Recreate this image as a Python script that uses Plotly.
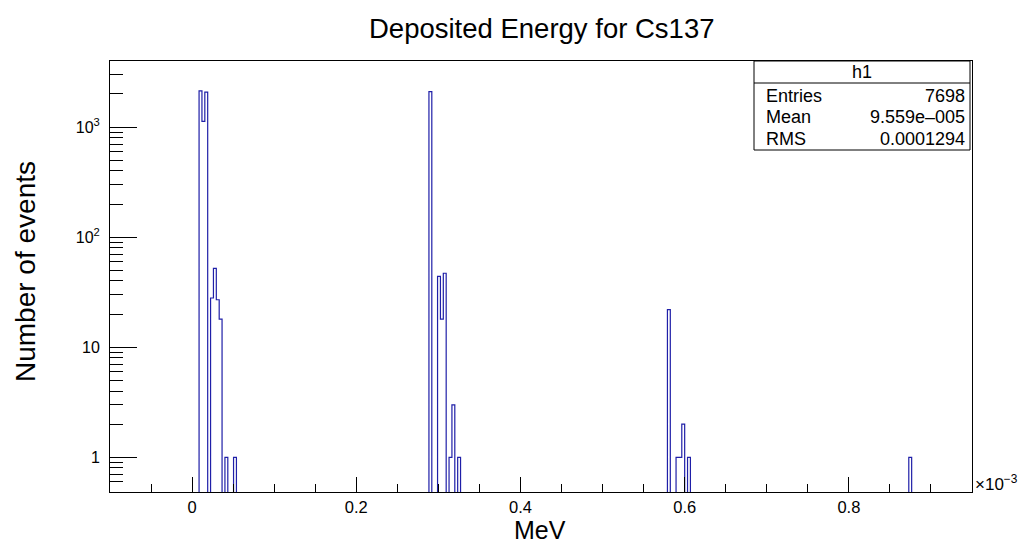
import numpy as np
import plotly.graph_objects as go

# Histogram binning (MeV): 300 bins from -0.1e-3 to 0.95e-3
X_LOW = -1.0e-4
BIN_WIDTH = 3.5e-6
N_BINS = 300

# Filled bins: bin index -> number of events
bin_index = [31, 32, 33, 35, 36, 37, 38, 40, 43,
             111, 114, 115, 116, 118, 119, 121,
             194, 197, 198, 199, 201,
             278]
counts = [2130, 1124, 2075, 28, 52, 27, 18, 1, 1,
          2100, 44, 18, 47, 1, 3, 1,
          22, 1, 1, 2, 1,
          1]

# Stats box contents
stats_name = "h1"
stats_labels = ["Entries", "Mean", "RMS"]
stats_values = ["7698", "9.559e\u2013005", "0.0001294"]

# Axis ticks
x_major = [0.0, 2e-4, 4e-4, 6e-4, 8e-4]
x_major_text = ["0", "0.2", "0.4", "0.6", "0.8"]
y_major = [1, 10, 100, 1000]
y_major_text = ["1", "10", "10<sup>2</sup>", "10<sup>3</sup>"]

FONT = "Liberation Sans, Arial, Helvetica, sans-serif"
LINE_COLOR = "#1f1fa8"

# Build the full bin content array and step outline
content = np.zeros(N_BINS)
content[bin_index] = counts
edges = X_LOW + BIN_WIDTH * np.arange(N_BINS + 1)
floor = 1e-3  # empty bins drop below the visible log range
y_step = np.where(content > 0, content, floor)
x_line = np.concatenate([edges[:-1], [edges[-1]]])
y_line = np.concatenate([y_step, [y_step[-1]]])

fig = go.Figure()
fig.add_trace(go.Scatter(
    x=x_line, y=y_line, mode="lines", line_shape="hv",
    line=dict(color=LINE_COLOR, width=1.2), hoverinfo="skip",
    showlegend=False,
))

x_minor = [v for v in np.round(np.arange(-1e-4, 9.51e-4, 5e-5), 8)
           if not any(abs(v - m) < 1e-9 for m in x_major)]
y_minor = []
for dec in [0.1, 1, 10, 100, 1000]:
    for d in range(2, 10):
        v = d * dec
        if 0.5 < v < 4000:
            y_minor.append(v)

fig.update_xaxes(
    range=[X_LOW, X_LOW + N_BINS * BIN_WIDTH],
    tickmode="array", tickvals=x_major, ticktext=x_major_text,
    ticks="inside", ticklen=15, tickwidth=1, tickcolor="black",
    minor=dict(tickmode="array", tickvals=x_minor, ticks="inside",
               ticklen=8, tickwidth=1, tickcolor="black"),
    showline=True, linecolor="black", linewidth=1, mirror=True,
    showgrid=False, zeroline=False,
    tickfont=dict(family=FONT, size=16.5, color="black"),
)
fig.update_yaxes(
    type="log", range=[-0.315, 3.600],
    tickmode="array", tickvals=y_major, ticktext=y_major_text,
    ticks="inside", ticklen=27, tickwidth=1, tickcolor="black",
    minor=dict(tickmode="array", tickvals=y_minor, ticks="inside",
               ticklen=13, tickwidth=1, tickcolor="black"),
    showline=True, linecolor="black", linewidth=1, mirror=True,
    showgrid=False, zeroline=False,
    tickfont=dict(family=FONT, size=16, color="black"),
    ticklabelstandoff=6,
)

# Plot frame in pixels: x 110..972, y 61..492
L, R, T, B = 110, 972, 61, 492
W, H = 1018, 545


def px(x):
    return (x - L) / (R - L)


def py(y):
    return (B - y) / (B - T)


annotations = [
    dict(text="Deposited Energy for Cs137", x=px(541), y=py(28),
         font=dict(size=27.5, family=FONT, color="black")),
    dict(text="Number of events", x=px(25), y=py(272), textangle=-90,
         font=dict(size=28, family=FONT, color="black")),
    dict(text="MeV", x=px(540), y=py(530),
         font=dict(size=25, family=FONT, color="black")),
    dict(text="\u00d710<sup>\u22123</sup>", x=px(973), y=py(483), xanchor="left",
         font=dict(size=17, family=FONT, color="black")),
    dict(text=stats_name, x=px(862), y=py(72),
         font=dict(size=18, family=FONT, color="black")),
]
row_y = [96, 117, 139]
for lab, val, yy in zip(stats_labels, stats_values, row_y):
    annotations.append(dict(text=lab, x=px(764), y=py(yy), xanchor="left",
                            font=dict(size=18, family=FONT, color="black")))
    annotations.append(dict(text=val, x=px(967), y=py(yy), xanchor="right",
                            font=dict(size=18, family=FONT, color="black")))
for a in annotations:
    a.setdefault("xanchor", "center")
    a.update(xref="paper", yref="paper", yanchor="middle", showarrow=False)

shapes = [
    dict(type="rect", xref="paper", yref="paper",
         x0=px(754), x1=px(970), y0=py(150), y1=py(61),
         line=dict(color="black", width=1), fillcolor="white", layer="above"),
    dict(type="line", xref="paper", yref="paper",
         x0=px(754), x1=px(970), y0=py(83), y1=py(83),
         line=dict(color="black", width=1), layer="above"),
]

fig.update_layout(
    width=W, height=H,
    margin=dict(l=L, r=W - R, t=T, b=H - B),
    paper_bgcolor="white", plot_bgcolor="white",
    annotations=annotations, shapes=shapes,
    font=dict(family=FONT, color="black"),
)

fig.write_html("out.html")
